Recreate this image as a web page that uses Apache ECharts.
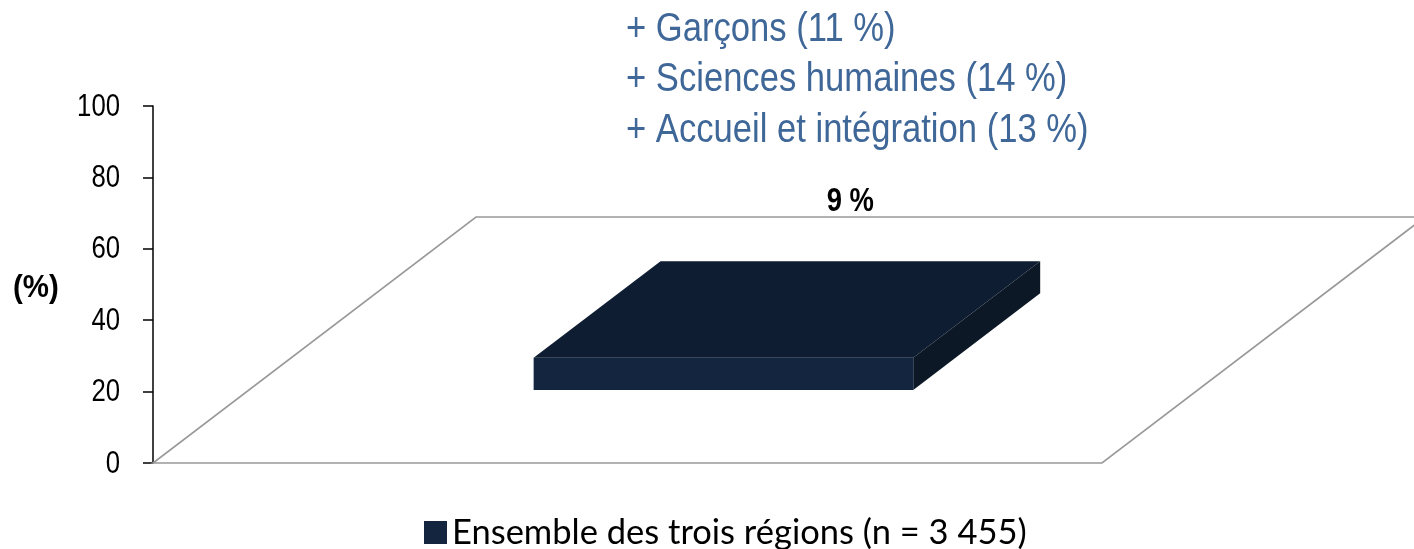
<!DOCTYPE html>
<html>
<head>
<meta charset="utf-8">
<script src="https://cdn.jsdelivr.net/npm/echarts@6/dist/echarts.min.js"></script>
<style>
html,body{margin:0;padding:0;background:#fff;}
#chart{width:1414px;height:549px;}
</style>
</head>
<body>
<div id="chart"></div>
<script>
// ---- data ----
const categories = ['Ensemble des trois régions'];
const seriesName = 'Ensemble des trois régions (n = 3 455)';
const values = [9];
const yMin = 0, yMax = 100, yInterval = 20;
const yTickLabels = ['0', '20', '40', '60', '80', '100'];
const notes = ['+ Garçons (11 %)', '+ Sciences humaines (14 %)', '+ Accueil et intégration (13 %)'];
const axisName = '(%)';

// ---- style constants (3D look) ----
const DX = 323, DY = -246;      // full floor depth vector in px
const F1 = 0.297, F2 = 0.69;    // bar front / back depth fractions
const BAR_FRAC = 0.4;
const COL_FRONT = '#13253F', COL_TOP = '#0E1D31', COL_SIDE = '#0C1826';
const NARROW = 0.83;

const chart = echarts.init(document.getElementById('chart'));

function renderItem(params, api) {
  const v = api.value(1);
  const base = api.coord([api.value(0), 0]);
  const top = api.coord([api.value(0), v]);
  const band = api.size([1, 0])[0];
  const h = base[1] - top[1];
  const cx = base[0], y0 = base[1];
  const left = cx - band / 2, right = cx + band / 2;
  const w = band * BAR_FRAC;
  const bl = cx - w / 2, br = cx + w / 2;
  const ox1 = DX * F1, oy1 = y0 + DY * F1;
  const ox2 = DX * F2, oy2 = y0 + DY * F2;
  return {
    type: 'group',
    children: [
      { type: 'polygon', shape: { points: [[left, y0], [right, y0], [right + DX, y0 + DY], [left + DX, y0 + DY]] },
        style: { fill: '#fff', stroke: '#999999', lineWidth: 1.6 } },
      { type: 'polygon', shape: { points: [[bl + ox1, oy1 - h], [br + ox1, oy1 - h], [br + ox2, oy2 - h], [bl + ox2, oy2 - h]] },
        style: { fill: COL_TOP } },
      { type: 'polygon', shape: { points: [[br + ox1, oy1 - h], [br + ox2, oy2 - h], [br + ox2, oy2], [br + ox1, oy1]] },
        style: { fill: COL_SIDE } },
      { type: 'rect', shape: { x: bl + ox1, y: oy1 - h, width: w, height: h },
        style: { fill: COL_FRONT } },
      { type: 'text', x: cx + ox2, y: oy2 - h - 59, scaleX: NARROW,
        style: { text: v + ' %', align: 'center', verticalAlign: 'middle',
          font: 'bold 33px "Liberation Sans", Arial', fill: '#000' } }
    ]
  };
}

const option = {
  animation: false,
  backgroundColor: '#fff',
  grid: { left: 153, right: 312, top: 106, bottom: 86 },
  xAxis: { type: 'category', data: categories, show: false },
  yAxis: {
    type: 'value', min: yMin, max: yMax, interval: yInterval,
    axisLine: { show: true, lineStyle: { color: '#000', width: 1.5 } },
    axisTick: { show: true, length: 10, lineStyle: { color: '#000', width: 1.5 } },
    splitLine: { show: false },
    axisLabel: { show: false }
  },
  legend: {
    data: [seriesName], left: 419, top: 510, icon: 'rect', itemWidth: 23, itemHeight: 23,
    textStyle: { fontFamily: 'Lato, Carlito, Calibri, sans-serif', fontSize: 34.5, color: '#000' }
  },
  series: [{
    type: 'custom', name: seriesName, renderItem: renderItem,
    itemStyle: { color: COL_FRONT },
    encode: { x: 0, y: 1 },
    data: categories.map((c, i) => [i, values[i]])
  }]
};
chart.setOption(option);

// text elements: tick labels placed through the axis scale, narrow-looking via scaleX
const graphics = [
  { type: 'text', x: 13, y: 288, scaleX: 0.95,
    style: { text: axisName, font: 'bold 31px "Liberation Sans", Arial', fill: '#000', align: 'left', verticalAlign: 'middle' } }
];
yTickLabels.forEach((t) => {
  const py = chart.convertToPixel({ yAxisIndex: 0 }, Number(t));
  graphics.push({ type: 'text', x: 120, y: py + 1, scaleX: NARROW,
    style: { text: t, font: '31px "Liberation Sans", Arial', fill: '#000', align: 'right', verticalAlign: 'middle' } });
});
notes.forEach((t, i) => {
  graphics.push({ type: 'text', x: 626, y: [30, 80, 131][i], scaleX: 0.865,
    style: { text: t, font: '40px "Liberation Sans", Arial', fill: '#3F6798', align: 'left', verticalAlign: 'middle' } });
});
chart.setOption({ graphic: graphics });
</script>
</body>
</html>
